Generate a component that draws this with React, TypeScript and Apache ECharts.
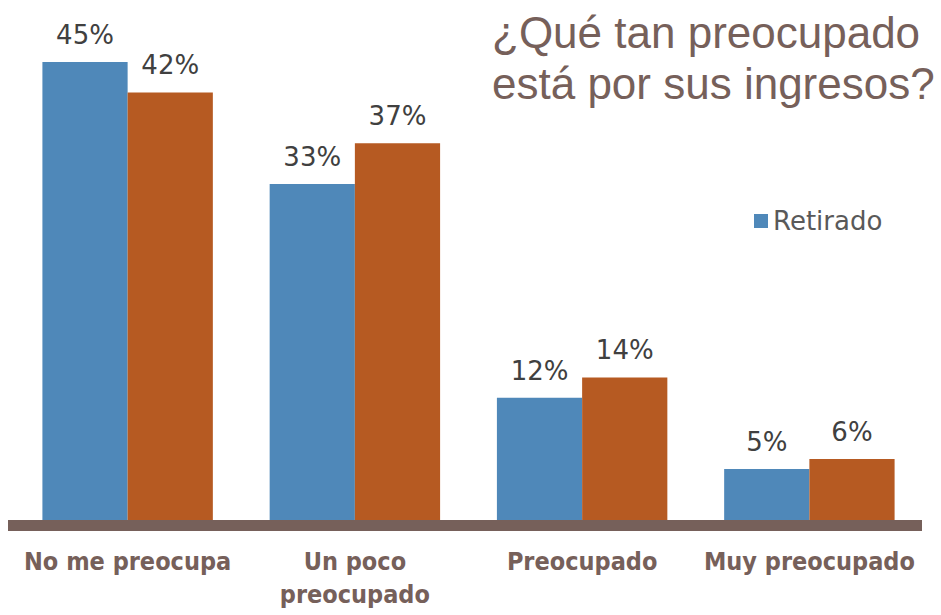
import React, { useEffect, useRef } from "react";
import * as echarts from "echarts";

const categories = ["No me preocupa", "Un poco\npreocupado", "Preocupado", "Muy preocupado"];
const retirado = [45, 33, 12, 5];
const otro = [42, 37, 14, 6];
const titleText = "¿Qué tan preocupado\nestá por sus ingresos?";

export default function App() {
  const ref = useRef<HTMLDivElement>(null);
  useEffect(() => {
    const chart = echarts.init(ref.current!, null, { renderer: "svg" });
    const labelStyle = {
      show: true,
      position: "top" as const,
      distance: 14,
      formatter: "{c}%",
      fontSize: 26,
      color: "#404040",
      fontFamily: "DejaVu Sans, sans-serif",
    };
    chart.setOption({
      animation: false,
      backgroundColor: "#ffffff",
      title: {
        text: titleText,
        left: 487,
        top: 2,
        textStyle: {
          fontSize: 44,
          fontWeight: "normal",
          color: "#76605A",
          lineHeight: 51,
          fontFamily: "Liberation Sans, Arial, sans-serif",
        },
      },
      legend: {
        data: ["Retirado"],
        left: 749,
        top: 203,
        itemWidth: 14,
        itemHeight: 14,
        itemGap: 10,
        icon: "rect",
        textStyle: { fontSize: 26, color: "#595959", fontFamily: "DejaVu Sans, sans-serif" },
      },
      grid: { left: 14, right: 18, top: 11, bottom: 95, containLabel: false, outerBoundsMode: "none" },
      xAxis: {
        type: "category",
        data: categories,
        axisLine: { show: false },
        axisTick: { show: false },
        axisLabel: {
          margin: 25,
          fontSize: 25,
          fontWeight: "bold",
          color: "#76605A",
          lineHeight: 33,
          fontFamily: "DejaVu Sans Condensed, Liberation Sans Narrow, sans-serif",
          interval: 0,
          verticalAlign: "top",
        },
      },
      yAxis: { type: "value", min: 0, max: 50, show: false, splitLine: { show: false } },
      graphic: [
        { type: "rect", shape: { x: 8, y: 520, width: 914, height: 11 }, style: { fill: "#76605A" }, z: 10 },
      ],
      series: [
        {
          name: "Retirado",
          type: "bar",
          data: retirado,
          barGap: "0%",
          barCategoryGap: "25%",
          itemStyle: { color: "#4F88B9" },
          label: labelStyle,
        },
        {
          name: "No retirado",
          type: "bar",
          data: otro,
          barGap: "0%",
          barCategoryGap: "25%",
          itemStyle: { color: "#B65A22" },
          label: labelStyle,
        },
      ],
    });
    return () => chart.dispose();
  }, []);
  return <div ref={ref} style={{ width: 941, height: 615, position: "absolute", left: 0, top: 0 }} />;
}
